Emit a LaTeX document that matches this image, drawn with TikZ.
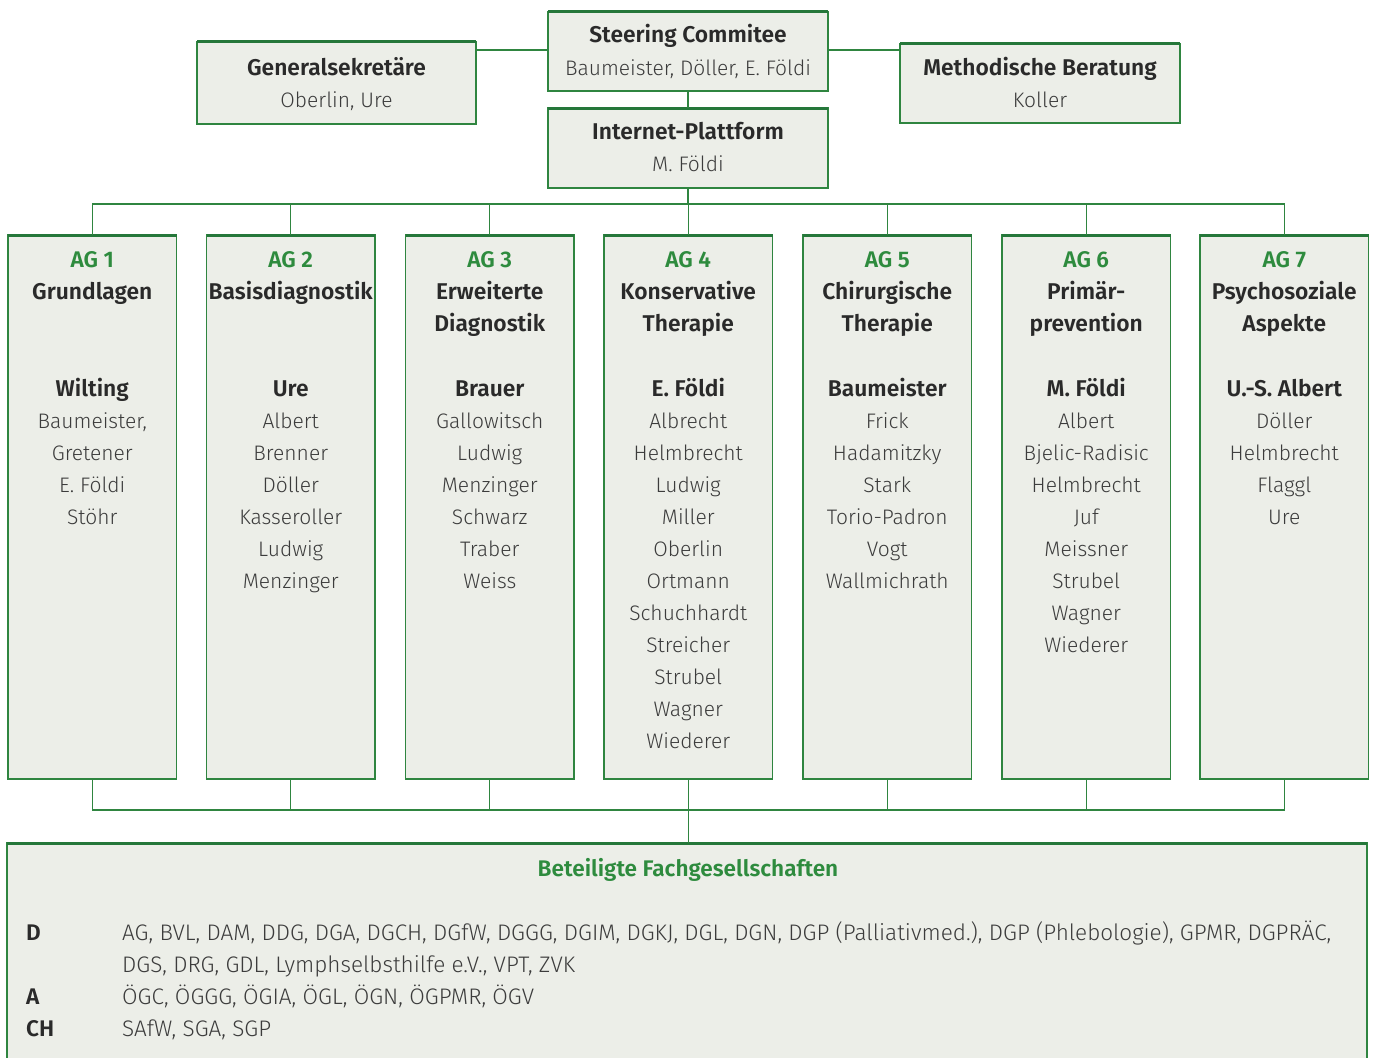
\documentclass[tikz,border=0pt]{standalone}
\usepackage{fontspec}
\setmainfont{Fira Sans Light}[BoldFont={Fira Sans SemiBold}]
\definecolor{agreen}{HTML}{2F8540}
\definecolor{topgreen}{HTML}{25773A}
\definecolor{boxfill}{HTML}{ECEEE8}
\definecolor{tdark}{HTML}{2A2A2A}
\definecolor{tname}{HTML}{3C3C3C}
\definecolor{tgreen}{HTML}{2E8B3E}
\tikzset{
  box/.style={draw=agreen, line width=1.4pt, fill=boxfill, inner sep=0pt, outer sep=0pt, anchor=north west},
  topline/.style={draw=topgreen, line width=3pt},
  conn/.style={draw=agreen, line width=1.4pt},
  ttl/.style={font=\fontsize{22.8}{32}\selectfont\bfseries, text=tdark, inner sep=0pt, anchor=base},
  nm/.style={font=\fontsize{21}{32}\selectfont, text=tname, inner sep=0pt, anchor=base},
  agnum/.style={font=\fontsize{22.6}{32}\selectfont\bfseries, text=tgreen, inner sep=0pt, anchor=base},
  lbl/.style={font=\fontsize{22.6}{32}\selectfont\bfseries, text=tdark, inner sep=0pt, anchor=base west},
  lst/.style={font=\fontsize{22.5}{32}\selectfont, text=tname, inner sep=0pt, anchor=base west},
}
\begin{document}
\begin{tikzpicture}[x=1pt,y=-1pt]
\useasboundingbox (0,0) rectangle (1375,1057);
\clip (0,0) rectangle (1375,1057);
% top boxes
\node[box, minimum width=280, minimum height=79] (steer) at (548,12) {};
\node[box, minimum width=279, minimum height=82] (gen) at (197,42) {};
\node[box, minimum width=280, minimum height=79] (meth) at (900,44) {};
\node[box, minimum width=280, minimum height=80] (inet) at (548,108) {};
\foreach \b in {steer,gen,meth,inet} \draw[topline] (\b.north west) -- (\b.north east);
\node[ttl] (steerT) at (688,43) {Steering Commitee};
\node[nm] (steerN) at (688,75) {Baumeister, Döller, E. Földi};
\node[ttl] (genT) at (336.5,75) {Generalsekretäre};
\node[nm] (genN) at (336.5,107) {Oberlin, Ure};
\node[ttl] (methT) at (1040,75) {Methodische Beratung};
\node[nm] (methN) at (1040,107) {Koller};
\node[ttl] (inetT) at (688,139) {Internet-Plattform};
\node[nm] (inetN) at (688,171) {M. Földi};
% AG boxes
\foreach \i/\x in {1/8,2/206.5,3/405.5,4/604,5/803,6/1002,7/1200}{
  \node[box, minimum width=168.5, minimum height=544] (ag\i) at (\x,235) {};
  \draw[topline] (ag\i.north west) -- (ag\i.north east);
}
% connectors
\draw[conn] (gen.east |- 0,50) -- (steer.west |- 0,50);
\draw[conn] (steer.east |- 0,50) -- (meth.west |- 0,50);
\draw[conn] (steer.south) -- (inet.north);
\coordinate (busT) at (688,204);
\coordinate (busB) at (688,810);
\draw[conn] (inet.south) -- (inet.south |- busT);
\draw[conn] (ag1.north) -- (ag1.north |- busT) -- (ag7.north |- busT) -- (ag7.north);
\draw[conn] (ag1.south) -- (ag1.south |- busB) -- (ag7.south |- busB) -- (ag7.south);
\foreach \i in {2,...,6}{
  \draw[conn] (ag\i.north) -- (ag\i.north |- busT);
  \draw[conn] (ag\i.south) -- (ag\i.south |- busB);
}
% bottom box
\node[box, minimum width=1360, minimum height=260] (fach) at (7,843) {};
\draw[topline] (fach.north west) -- (fach.north east);
\draw[conn] (ag4.south) -- (ag4.south |- fach.north);
% AG texts
\node[agnum] (ag1n) at (ag1.north |- 0,267) {AG 1};
\node[ttl] (ag1t) at (ag1.north |- 0,299) {Grundlagen};
\node[ttl] (ag1h) at (ag1.north |- 0,396) {Wilting};
\foreach \m [count=\k] in {{Baumeister,},Gretener,E. Földi,Stöhr}
  \node[nm] (ag1m\k) at (ag1.north |- 0,396+32*\k) {\m};

\node[agnum] (ag2n) at (ag2.north |- 0,267) {AG 2};
\node[ttl] (ag2t) at (ag2.north |- 0,299) {Basisdiagnostik};
\node[ttl] (ag2h) at (ag2.north |- 0,396) {Ure};
\foreach \m [count=\k] in {Albert,Brenner,Döller,Kasseroller,Ludwig,Menzinger}
  \node[nm] (ag2m\k) at (ag2.north |- 0,396+32*\k) {\m};

\node[agnum] (ag3n) at (ag3.north |- 0,267) {AG 3};
\node[ttl] (ag3t) at (ag3.north |- 0,299) {Erweiterte};
\node[ttl] (ag3u) at (ag3.north |- 0,331) {Diagnostik};
\node[ttl] (ag3h) at (ag3.north |- 0,396) {Brauer};
\foreach \m [count=\k] in {Gallowitsch,Ludwig,Menzinger,Schwarz,Traber,Weiss}
  \node[nm] (ag3m\k) at (ag3.north |- 0,396+32*\k) {\m};

\node[agnum] (ag4n) at (ag4.north |- 0,267) {AG 4};
\node[ttl] (ag4t) at (ag4.north |- 0,299) {Konservative};
\node[ttl] (ag4u) at (ag4.north |- 0,331) {Therapie};
\node[ttl] (ag4h) at (ag4.north |- 0,396) {E. Földi};
\foreach \m [count=\k] in {Albrecht,Helmbrecht,Ludwig,Miller,Oberlin,Ortmann,Schuchhardt,Streicher,Strubel,Wagner,Wiederer}
  \node[nm] (ag4m\k) at (ag4.north |- 0,396+32*\k) {\m};

\node[agnum] (ag5n) at (ag5.north |- 0,267) {AG 5};
\node[ttl] (ag5t) at (ag5.north |- 0,299) {Chirurgische};
\node[ttl] (ag5u) at (ag5.north |- 0,331) {Therapie};
\node[ttl] (ag5h) at (ag5.north |- 0,396) {Baumeister};
\foreach \m [count=\k] in {Frick,Hadamitzky,Stark,Torio-Padron,Vogt,Wallmichrath}
  \node[nm] (ag5m\k) at (ag5.north |- 0,396+32*\k) {\m};

\node[agnum] (ag6n) at (ag6.north |- 0,267) {AG 6};
\node[ttl] (ag6t) at (ag6.north |- 0,299) {Primär-};
\node[ttl] (ag6u) at (ag6.north |- 0,331) {prevention};
\node[ttl] (ag6h) at (ag6.north |- 0,396) {M. Földi};
\foreach \m [count=\k] in {Albert,Bjelic-Radisic,Helmbrecht,Juf,Meissner,Strubel,Wagner,Wiederer}
  \node[nm] (ag6m\k) at (ag6.north |- 0,396+32*\k) {\m};

\node[agnum] (ag7n) at (ag7.north |- 0,267) {AG 7};
\node[ttl] (ag7t) at (ag7.north |- 0,299) {Psychosoziale};
\node[ttl] (ag7u) at (ag7.north |- 0,331) {Aspekte};
\node[ttl] (ag7h) at (ag7.north |- 0,396) {U.-S. Albert};
\foreach \m [count=\k] in {Döller,Helmbrecht,Flaggl,Ure}
  \node[nm] (ag7m\k) at (ag7.north |- 0,396+32*\k) {\m};
% bottom texts
\node[agnum] (fachT) at (688,876) {Beteiligte Fachgesellschaften};
\node[lbl] (lD) at (26,940) {D};
\node[lst] (tD1) at (122,940) {AG, BVL, DAM, DDG, DGA, DGCH, DGfW, DGGG, DGIM, DGKJ, DGL, DGN, DGP (Palliativmed.), DGP (Phlebologie), GPMR, DGPRÄC,};
\node[lst] (tD2) at (122,972) {DGS, DRG, GDL, Lymphselbsthilfe e.V., VPT, ZVK};
\node[lbl] (lA) at (26,1004) {A};
\node[lst] (tA) at (122,1004) {ÖGC, ÖGGG, ÖGIA, ÖGL, ÖGN, ÖGPMR, ÖGV};
\node[lbl] (lCH) at (26,1036) {CH};
\node[lst] (tCH) at (122,1036) {SAfW, SGA, SGP};
\end{tikzpicture}
\end{document}
